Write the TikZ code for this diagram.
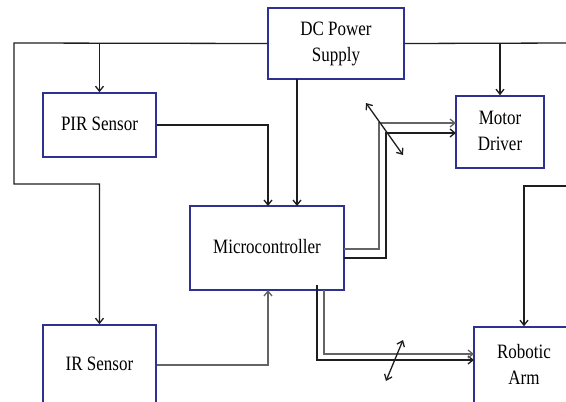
\documentclass[tikz,border=0pt]{standalone}
\usepackage{fontspec}
\usepackage{graphicx}
\setmainfont{Liberation Serif}
\usetikzlibrary{arrows.meta}
\definecolor{boxblue}{RGB}{46,49,146}
\definecolor{wiregray}{RGB}{100,100,100}
\definecolor{wireblack}{RGB}{30,30,30}
\newcommand{\tallbox}[1]{\scalebox{1}[1.2]{\begin{tabular}{@{}c@{}}#1\end{tabular}}}
\begin{document}
\begin{tikzpicture}[x=1pt,y=-1pt,
  blk/.style={draw=boxblue, line width=1.6pt, fill=white, align=center, inner sep=2pt,
    font=\fontsize{17}{21.5}\selectfont},
  wire/.style={draw=wireblack, line width=1.3pt},
  gwire/.style={draw=wiregray, line width=1.3pt},
  >={Straight Barb[length=5pt,width=8pt]}]
\useasboundingbox (0,0) rectangle (566,402);
% blocks
\node[blk, minimum width=136pt, minimum height=71pt] (dc) at (336,43.5) {\tallbox{DC Power\\Supply}};
\node[blk, minimum width=113pt, minimum height=64pt] (pir) at (99.5,125) {\tallbox{PIR Sensor}};
\node[blk, minimum width=88pt, minimum height=72pt] (motor) at (500,132) {\tallbox{Motor\\Driver}};
\node[blk, minimum width=154pt, minimum height=84pt] (micro) at (267,248) {\tallbox{Microcontroller}};
\node[blk, minimum width=113pt, minimum height=80pt] (ir) at (99.5,365) {\tallbox{IR Sensor}};
\node[blk, minimum width=100pt, minimum height=78pt] (arm) at (524,366) {\tallbox{Robotic\\Arm}};
% free ends and bends
\coordinate (lcorner) at (14,43);
\coordinate (lbend) at (14,184);
\coordinate (redge) at (570,43);
\coordinate (rbend) at (570,186);
\coordinate (pwrdown) at (297,79);
\coordinate (mtop) at (297,206);
\coordinate (pirin) at (268,206);
\coordinate (irin) at (268,290);
% controller ports
\coordinate (mout1) at (344,249);
\coordinate (mout2) at (344,258);
\coordinate (mout3) at (317,285);
\coordinate (mout4) at (324,290);
% driver and arm inputs
\coordinate (din1) at (456,123);
\coordinate (din2) at (456,133);
\coordinate (ain1) at (474,360);
\coordinate (ain2) at (474,354);
% power rails
\draw[wire,->] (dc.west) -- (lcorner) -- (lbend) -| (ir.north);
\draw[wire,->] (pir.north |- dc.west) -- (pir.north);
\draw[wire] (dc.east) -- (redge);
\draw[wire,->] (motor.north |- dc.east) -- (motor.north);
\draw[wire,->] (rbend) -| (arm.north);
\draw[wire,->] (pwrdown) -- (mtop);
% sensors to controller
\draw[wire,->] (pir.east) -| (pirin);
\draw[gwire,->] (ir.east) -| (irin);
% controller to motor driver
\draw[gwire,->] (mout1) -- (379,249) -- (379,123) -- (din1);
\draw[wire,->] (mout2) -- (386,258) -- (386,133) -- (din2);
% controller to robotic arm
\draw[wire,->] (mout3) -- (317,360) -- (ain1);
\draw[gwire,->] (mout4) -- (324,354) -- (ain2);
% bidirectional links
\coordinate (ua) at (366,103);
\coordinate (ub) at (403,155);
\coordinate (la) at (403,340);
\coordinate (lb) at (386,381);
\draw[wire,<->] (ua) -- (ub);
\draw[wire,<->] (la) -- (lb);
\end{tikzpicture}
\end{document}
